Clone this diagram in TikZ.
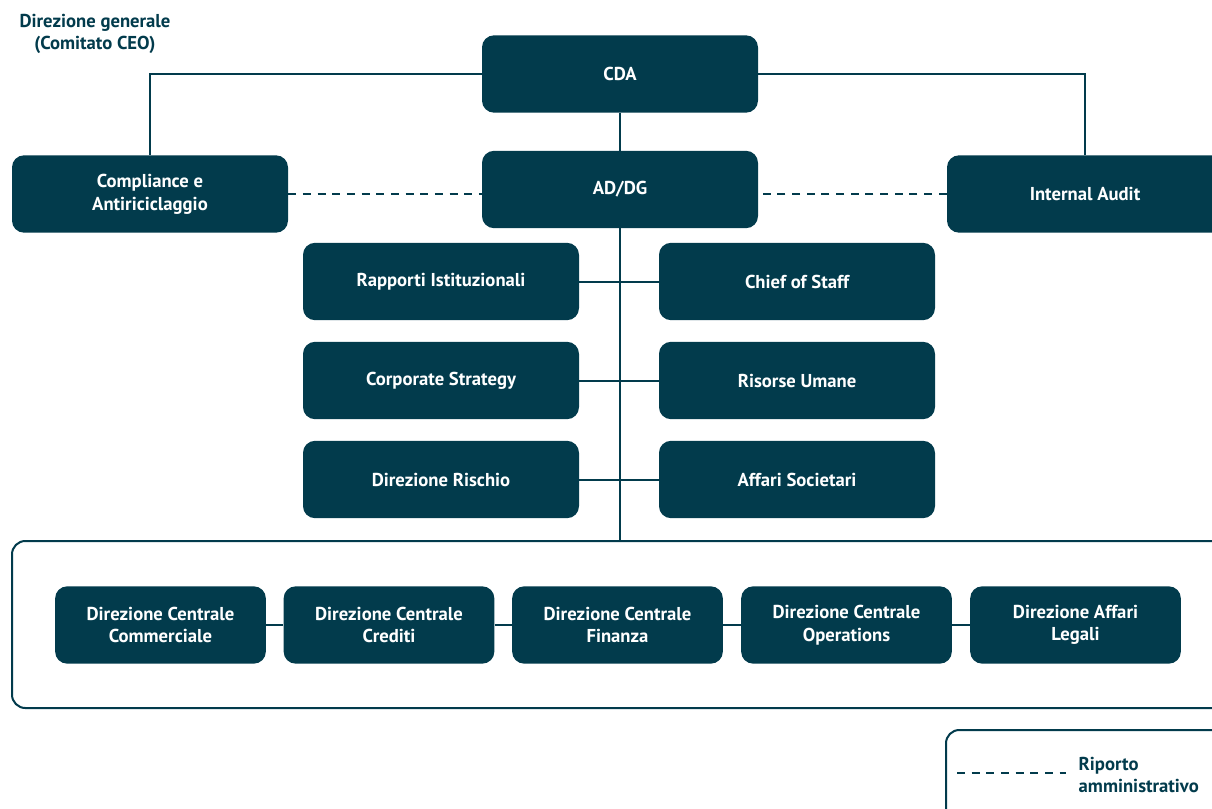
\documentclass[tikz,border=0pt]{standalone}
\usepackage{fontspec}
\setmainfont{PT Sans}
\definecolor{teal}{HTML}{023B4C}
\begin{document}
\begin{tikzpicture}[x=0.75pt, y=-0.75pt,
  box/.style={fill=teal, rounded corners=9pt, minimum width=207pt, minimum height=58pt, text=white, font=\bfseries\fontsize{14}{17}\selectfont, align=center, inner sep=0pt},
  smallbox/.style={box, minimum width=158pt},
  link/.style={draw=teal, line width=1.5pt},
  dashlink/.style={link, dash pattern=on 6pt off 5pt}]
  \useasboundingbox (0,0) rectangle (1212,809);
  \clip (0,0) rectangle (1212,809);
  % titolo
  \node[text=teal, font=\bfseries\fontsize{14}{16.5}\selectfont, align=center] (titolo) at (95,34) {Direzione generale\\(Comitato CEO)};
  % vertice
  \node[box] (cda) at (620,74) {CDA};
  \node[box] (addg) at (620,189.5) {AD/DG};
  \node[box] (compliance) at (150,194) {Compliance e\\Antiriciclaggio};
  \node[box] (audit) at (1085,194) {Internal Audit};
  \draw[link] (cda.west) -| (compliance.north);
  \draw[link] (cda.east) -| (audit.north);
  \draw[link] (cda) -- (addg);
  \draw[dashlink] (compliance.east) -- (compliance.east -| addg.west);
  \draw[dashlink] (audit.west) -- (audit.west -| addg.east);
  % staff
  \node[box] (rapporti) at (441,281.5) {Rapporti Istituzionali};
  \node[box] (chief) at (797,281.5) {Chief of Staff};
  \node[box] (strategy) at (441,380.5) {Corporate Strategy};
  \node[box] (risorse) at (797,380.5) {Risorse Umane};
  \node[box] (rischio) at (441,479.5) {Direzione Rischio};
  \node[box] (societari) at (797,479.5) {Affari Societari};
  \draw[link] (rapporti) -- (chief);
  \draw[link] (strategy) -- (risorse);
  \draw[link] (rischio) -- (societari);
  % direzioni centrali
  \draw[link, rounded corners=10pt] (12,541) rectangle (1230,708);
  \coordinate (cornice) at (620,541);
  \draw[link] (addg) -- (cornice);
  \node[smallbox] (commerciale) at (160.5,625) {Direzione Centrale\\Commerciale};
  \node[smallbox] (crediti) at (389,625) {Direzione Centrale\\Crediti};
  \node[smallbox] (finanza) at (617.5,625) {Direzione Centrale\\Finanza};
  \node[smallbox] (operations) at (846.5,625) {Direzione Centrale\\Operations};
  \node[smallbox] (legali) at (1075.5,625) {Direzione Affari\\Legali};
  \draw[link] (commerciale) -- (crediti) -- (finanza) -- (operations) -- (legali);
  % legenda
  \draw[link, rounded corners=10pt] (946,730) rectangle (1230,830);
  \coordinate (leg1) at (957,773);
  \coordinate (leg2) at (1066,773);
  \draw[dashlink] (leg1) -- (leg2);
  \node[text=teal, font=\bfseries\fontsize{14}{16}\selectfont, align=left, anchor=west] (legenda) at (1074,775) {Riporto\\amministrativo};
\end{tikzpicture}
\end{document}
